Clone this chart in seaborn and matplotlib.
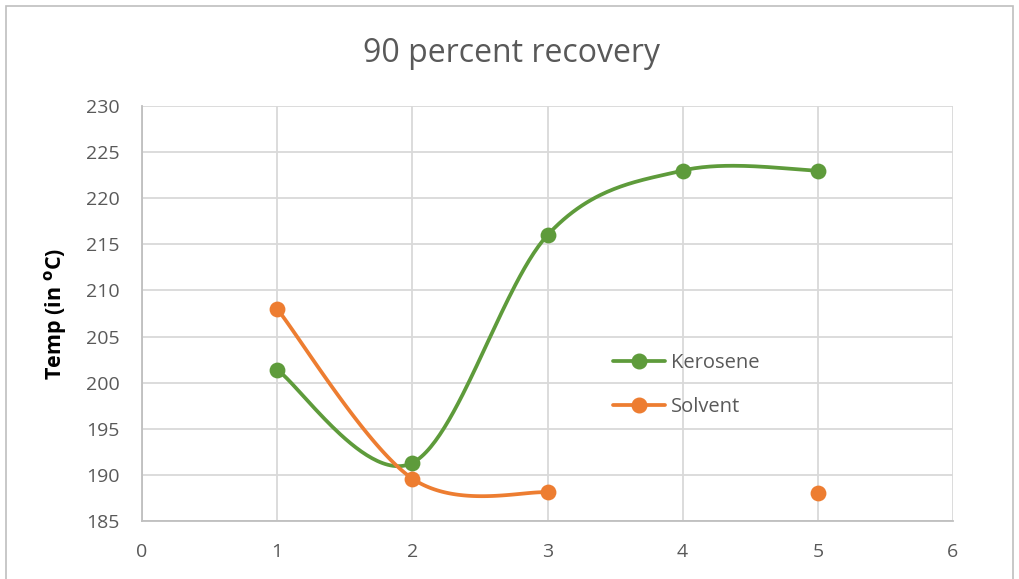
import numpy as np
import pandas as pd
import matplotlib
matplotlib.use("Agg")
import matplotlib.pyplot as plt
from matplotlib.patches import Rectangle
from matplotlib.lines import Line2D
import seaborn as sns

# ---- data ----
x_vals = [1, 2, 3, 4, 5]
kerosene = [201.4, 191.3, 216.0, 223.0, 223.0]
solvent = [208.0, 189.6, 188.1, np.nan, 188.0]
series_names = ["Kerosene", "Solvent"]
x_ticks = [0, 1, 2, 3, 4, 5, 6]
y_ticks = [185, 190, 195, 200, 205, 210, 215, 220, 225, 230]
title = "90 percent recovery"
ylabel = r"Temp (in $\mathbf{^{o}}$C)"

GREEN = "#5E9B3B"
ORANGE = "#ED7D31"
GRID = "#D9D9D9"
TEXT = "#595959"


def excel_smooth(xs, ys, n=60):
    """Catmull-Rom (Excel-like) smoothing across consecutive non-NaN runs."""
    xs = np.asarray(xs, float)
    ys = np.asarray(ys, float)
    segs = []
    run = []
    for xi, yi in zip(xs, ys):
        if np.isnan(yi):
            if run:
                segs.append(run)
            run = []
        else:
            run.append((xi, yi))
    if run:
        segs.append(run)
    out = []
    for seg in segs:
        if len(seg) < 2:
            continue
        P = np.array(seg)
        pts = []
        for i in range(len(P) - 1):
            p0 = P[i - 1] if i > 0 else P[i]
            p1 = P[i]
            p2 = P[i + 1]
            p3 = P[i + 2] if i + 2 < len(P) else P[i + 1]
            c1 = p1 + (p2 - p0) / 6.0
            c2 = p2 - (p3 - p1) / 6.0
            t = np.linspace(0, 1, n)[:, None]
            b = ((1 - t) ** 3) * p1 + 3 * ((1 - t) ** 2) * t * c1 + 3 * (1 - t) * t ** 2 * c2 + t ** 3 * p2
            pts.append(b if i == 0 else b[1:])
        out.append(np.vstack(pts))
    return out


sns.set_style("whitegrid")
plt.rcParams["font.family"] = ["Open Sans", "DejaVu Sans"]

fig = plt.figure(figsize=(10.19, 5.79), dpi=100)
ax = fig.add_axes([142 / 1019, 1 - 521 / 579, (953 - 142) / 1019, (521 - 106) / 579])

for name, vals, col in [("Kerosene", kerosene, GREEN), ("Solvent", solvent, ORANGE)]:
    for k, seg in enumerate(excel_smooth(x_vals, vals)):
        df_line = pd.DataFrame({"x": seg[:, 0], "y": seg[:, 1], "seg": k})
        sns.lineplot(data=df_line, x="x", y="y", sort=False, ax=ax, color=col,
                     linewidth=2.7, estimator=None, legend=False, zorder=3)
    df_pts = pd.DataFrame({"x": x_vals, "y": vals}).dropna()
    sns.scatterplot(data=df_pts, x="x", y="y", ax=ax, color=col, s=130,
                    edgecolor=col, linewidth=0, zorder=4, legend=False)

ax.set_xlim(0, 6)
ax.set_ylim(185, 230)
ax.set_xticks(x_ticks)
ax.set_yticks(y_ticks)
ax.grid(True, color=GRID, linewidth=1.3)
ax.set_axisbelow(True)
for s in ["top", "right"]:
    ax.spines[s].set_visible(False)
for s in ["left", "bottom"]:
    ax.spines[s].set_color("#BFBFBF")
    ax.spines[s].set_linewidth(1.3)
ax.tick_params(axis="y", length=0, labelsize=14, colors=TEXT, pad=16)
ax.tick_params(axis="x", length=0, labelsize=14, colors=TEXT, pad=16)
ax.set_xlabel("")
ax.set_ylabel(ylabel, fontsize=15.5, fontweight="bold", color="black", labelpad=12)

fig.text(0.502, 1 - 54 / 579, title, ha="center", va="center", fontsize=23,
         color=TEXT, fontweight="normal")

handles = [Line2D([], [], color=GREEN, lw=2.7, marker="o", markersize=10.5),
           Line2D([], [], color=ORANGE, lw=2.7, marker="o", markersize=10.5)]
leg = ax.legend(handles, series_names, loc="upper left",
                bbox_to_anchor=((595 - 142) / 811, (521 - 335) / 415),
                frameon=False, fontsize=14.5, handlelength=2.6, labelspacing=1.2,
                handletextpad=0.25)
for t in leg.get_texts():
    t.set_color(TEXT)

fig.patches.append(Rectangle((6 / 1019, -0.05), (1013 - 6) / 1019, 1.05 - 6 / 579,
                             transform=fig.transFigure, fill=False,
                             edgecolor="#BFBFBF", linewidth=1.2))

fig.savefig("out.png", dpi=100)
